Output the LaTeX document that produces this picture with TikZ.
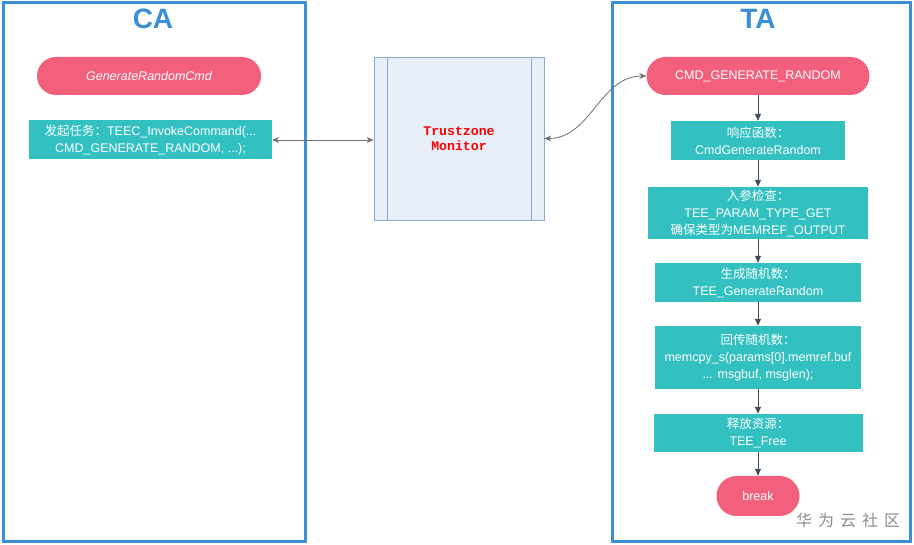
\documentclass[tikz,border=0pt]{standalone}
\usepackage{fontspec}
\setmainfont{Liberation Sans}
\newfontfamily\cjk{Noto Sans CJK SC}
\newfontfamily\monof{Liberation Mono}
\usetikzlibrary{arrows.meta}
\definecolor{laneblue}{HTML}{3A8FD6}
\definecolor{pinkc}{HTML}{F3607C}
\definecolor{tealc}{HTML}{32C0C0}
\definecolor{monfill}{HTML}{E8EEF8}
\definecolor{mondraw}{HTML}{8AAAD0}
\definecolor{flowc}{HTML}{3E4D60}
\definecolor{linkc}{HTML}{707070}
\definecolor{wmark}{HTML}{8C8C8C}
\begin{document}
\begin{tikzpicture}[x=1pt,y=-1pt,
  lane/.style={draw=laneblue, line width=3pt, inner sep=0pt},
  lanetitle/.style={text=laneblue, font=\bfseries\fontsize{28}{32}\selectfont, inner sep=0pt},
  tbox/.style={fill=tealc, text=white, align=center, inner sep=0pt, font=\fontsize{12.5}{17}\selectfont},
  pill/.style={fill=pinkc, text=white, rounded corners=19pt, inner sep=0pt, font=\fontsize{12.5}{15}\selectfont},
  monbox/.style={fill=monfill, draw=mondraw, line width=0.8pt, inner sep=0pt, align=center, text=red, font=\monof\bfseries\fontsize{13.2}{15}\selectfont},
  flow/.style={draw=flowc, line width=1pt, -{Triangle[length=7pt,width=6pt]}},
  link/.style={draw=linkc, line width=0.8pt, {Stealth[length=7pt,width=6pt]}-{Stealth[length=7pt,width=6pt]}}
]
\useasboundingbox (0,0) rectangle (914,545);
\fill[white] (0,0) rectangle (914,545);

% lanes
\node[lane, minimum width=302pt, minimum height=538pt] (ca) at (154,272) {};
\node[lane, minimum width=298pt, minimum height=538pt] (ta) at (761,272) {};
\node[lanetitle] (catitle) at (153,19) {CA};
\node[lanetitle] (tatitle) at (758,19) {TA};

% CA side
\node[pill, minimum width=224pt, minimum height=38pt, font=\itshape\fontsize{12.5}{15}\selectfont] (gen) at (149,76) {GenerateRandomCmd};
\node[tbox, minimum width=243pt, minimum height=39pt] (inv) at (150.5,140)
  {{\cjk 发起任务：}TEEC\_InvokeCommand(...\\CMD\_GENERATE\_RANDOM, ...);};

% monitor
\node[monbox, minimum width=170pt, minimum height=163pt] (mon) at (459,138.5) {Trustzone\\Monitor};
\draw[mondraw, line width=0.8pt] ([xshift=14pt]mon.north west) -- ([xshift=14pt]mon.south west);
\draw[mondraw, line width=0.8pt] ([xshift=-13pt]mon.north east) -- ([xshift=-13pt]mon.south east);

% TA side
\node[pill, minimum width=223pt, minimum height=38pt] (cmd) at (758,76) {CMD\_GENERATE\_RANDOM};
\node[tbox, minimum width=174pt, minimum height=39pt] (b1) at (758,140.5)
  {{\cjk 响应函数：}\\CmdGenerateRandom};
\node[tbox, minimum width=220pt, minimum height=52pt] (b2) at (758,213)
  {{\cjk 入参检查：}\\TEE\_PARAM\_TYPE\_GET\\{\cjk 确保类型为}MEMREF\_OUTPUT};
\node[tbox, minimum width=206pt, minimum height=39pt] (b3) at (758,282.5)
  {{\cjk 生成随机数：}\\TEE\_GenerateRandom};
\node[tbox, minimum width=206pt, minimum height=63pt] (b4) at (758,357.5)
  {{\cjk 回传随机数：}\\memcpy\_s(params[0].memref.buf\\... msgbuf, msglen);};
\node[tbox, minimum width=209pt, minimum height=38pt] (b5) at (758,433)
  {{\cjk 释放资源：}\\TEE\_Free};
\node[pill, minimum width=83pt, minimum height=40pt, rounded corners=20pt] (brk) at (758,496) {break};

% flow arrows
\draw[flow] (cmd.south) -- (b1.north);
\draw[flow] (b1.south) -- (b2.north);
\draw[flow] (b2.south) -- (b3.north);
\draw[flow] (b3.south) -- (b4.north);
\draw[flow] (b4.south) -- (b5.north);
\draw[flow] (b5.south) -- (brk.north);

% links
\draw[link] (inv.east) -- (inv.east -| mon.west);
\draw[link] (mon.east) to[out=0, in=180] (cmd.west);

% watermark
\node[text=wmark, font=\cjk\fontsize{16}{16}\selectfont, inner sep=0pt] (wm) at (848,520)
  {华\hspace{6pt}为\hspace{6pt}云\hspace{6pt}社\hspace{6pt}区};
\end{tikzpicture}
\end{document}
